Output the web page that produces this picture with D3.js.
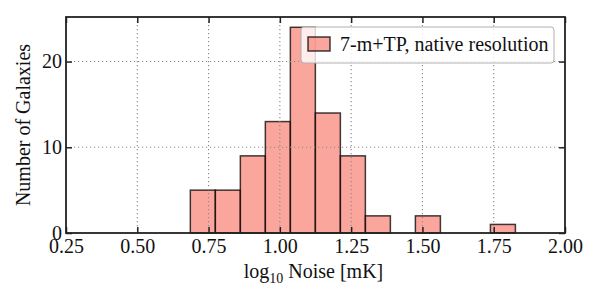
<!DOCTYPE html>
<html>
<head>
<meta charset="utf-8">
<script src="https://cdn.jsdelivr.net/npm/d3@7"></script>
<style>
  body { margin: 0; background: #fff; }
  text { font-family: "Liberation Serif", "DejaVu Serif", serif; fill: #111; }
</style>
</head>
<body>
<div id="vis"></div>
<script>
// histogram bins (log10 noise) and counts
var binStart = 0.686;
var binWidth = 0.0877;
var counts = [5, 5, 9, 13, 24, 14, 9, 2, 0, 2, 0, 0, 1];
var xTicks = [0.25, 0.50, 0.75, 1.00, 1.25, 1.50, 1.75, 2.00];
var yTicks = [0, 10, 20];
var legendLabel = '7-m+TP, native resolution';

var width = 600,
    height = 300,
    margin = {top: 17, right: 35, bottom: 67, left: 66},
    drawWidth = width - margin.left - margin.right,
    drawHeight = height - margin.top - margin.bottom;

var svg = d3.select('#vis').append('svg')
    .attr('width', width)
    .attr('height', height);

var g = svg.append('g')
    .attr('transform', 'translate(' + margin.left + ',' + margin.top + ')');

var xScale = d3.scaleLinear().domain([0.25, 2.0]).range([0, drawWidth]);
var yScale = d3.scaleLinear().domain([0, 25.2]).range([drawHeight, 0]);

var bins = counts.map(function(c, i) {
    return {x0: binStart + i * binWidth, x1: binStart + (i + 1) * binWidth, n: c};
}).filter(function(d) { return d.n > 0; });

// bars
g.selectAll('rect.bar').data(bins).enter().append('rect')
    .attr('class', 'bar')
    .attr('x', function(d) { return xScale(d.x0); })
    .attr('width', function(d) { return xScale(d.x1) - xScale(d.x0); })
    .attr('y', function(d) { return yScale(d.n); })
    .attr('height', function(d) { return drawHeight - yScale(d.n); })
    .attr('fill', '#fa8072')
    .attr('fill-opacity', 0.7)
    .attr('stroke', '#000')
    .attr('stroke-opacity', 0.75)
    .attr('stroke-width', 1.5);

// dotted grid, drawn over bars
g.selectAll('line.gx').data(xTicks.slice(1, -1)).enter().append('line')
    .attr('x1', function(d) { return xScale(d); })
    .attr('x2', function(d) { return xScale(d); })
    .attr('y1', 0).attr('y2', drawHeight)
    .attr('stroke', '#8a8a8a').attr('stroke-width', 1.1)
    .attr('stroke-dasharray', '1.2,2.8');
g.selectAll('line.gy').data(yTicks.slice(1)).enter().append('line')
    .attr('y1', function(d) { return yScale(d); })
    .attr('y2', function(d) { return yScale(d); })
    .attr('x1', 0).attr('x2', drawWidth)
    .attr('stroke', '#8a8a8a').attr('stroke-width', 1.1)
    .attr('stroke-dasharray', '1.2,2.8');

// axes, ticks inward on all sides
var fmt = d3.format('.2f');
var xAxis = g.append('g').attr('transform', 'translate(0,' + drawHeight + ')')
    .call(d3.axisBottom(xScale).tickValues(xTicks).tickFormat(fmt).tickSizeInner(-6).tickSizeOuter(0).tickPadding(6));
var xTop = g.append('g')
    .call(d3.axisTop(xScale).tickValues(xTicks).tickFormat('').tickSizeInner(-6).tickSizeOuter(0));
var yAxis = g.append('g')
    .call(d3.axisLeft(yScale).tickValues(yTicks).tickFormat(d3.format('d')).tickSizeInner(-6).tickSizeOuter(0).tickPadding(4));
var yRight = g.append('g').attr('transform', 'translate(' + drawWidth + ',0)')
    .call(d3.axisRight(yScale).tickValues(yTicks).tickFormat('').tickSizeInner(-6).tickSizeOuter(0));

[xAxis, xTop, yAxis, yRight].forEach(function(a) {
    a.select('.domain').remove();
    a.selectAll('.tick line').attr('stroke', '#222').attr('stroke-width', 1.5);
    a.selectAll('.tick text').style('font-size', '20px')
        .style('font-family', '"Liberation Serif", serif').attr('fill', '#111');
});

// frame
g.append('rect')
    .attr('width', drawWidth).attr('height', drawHeight)
    .attr('fill', 'none').attr('stroke', '#222').attr('stroke-width', 1.8);

// legend
var leg = g.append('g').attr('transform', 'translate(' + (301 - margin.left) + ',' + (27 - margin.top) + ')');
leg.append('rect')
    .attr('width', 253).attr('height', 36).attr('rx', 3)
    .attr('fill', '#fff').attr('fill-opacity', 0.8)
    .attr('stroke', '#b0b0b0').attr('stroke-width', 1);
leg.append('rect')
    .attr('x', 7).attr('y', 10).attr('width', 22).attr('height', 14)
    .attr('fill', '#fa8072').attr('fill-opacity', 0.7)
    .attr('stroke', '#000').attr('stroke-opacity', 0.75).attr('stroke-width', 1.5);
leg.append('text')
    .attr('x', 39).attr('y', 24)
    .style('font-size', '20px')
    .text(legendLabel);

// axis titles
var xt = svg.append('text')
    .attr('x', margin.left + drawWidth / 2 - 2)
    .attr('y', 278)
    .attr('text-anchor', 'middle')
    .style('font-size', '20px');
xt.append('tspan').text('log');
xt.append('tspan').attr('dy', 5).style('font-size', '14px').text('10');
xt.append('tspan').attr('dy', -5).text(' Noise [mK]');

svg.append('text')
    .attr('transform', 'translate(' + 30 + ',' + 125 + ') rotate(-90)')
    .attr('text-anchor', 'middle')
    .style('font-size', '20px')
    .text('Number of Galaxies');
</script>
</body>
</html>
